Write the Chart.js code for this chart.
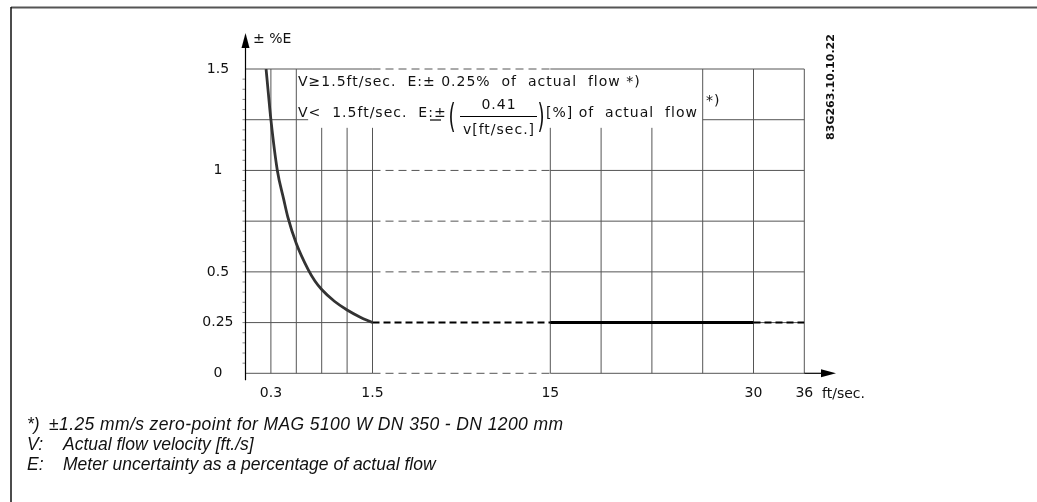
<!DOCTYPE html>
<html>
<head>
<meta charset="utf-8">
<script src="https://cdn.jsdelivr.net/npm/chart.js@4"></script>
<style>
body { margin: 0; background: #fff; }
canvas { display: block; }
</style>
</head>
<body>
<canvas id="chart" width="1037" height="502"></canvas>
<script>
// values (velocity in ft/sec, error in %)
const curveVelocity = [0.243, 0.27, 0.3, 0.376, 0.45, 0.5, 0.6, 0.742, 0.82, 0.9, 1.05, 1.2, 1.35, 1.5]
const curveError = [1.5, 1.38, 1.25, 1.0, 0.86, 0.77, 0.64, 0.51, 0.455, 0.413, 0.355, 0.312, 0.278, 0.25]
const gapVelocity = [1.5, 15]
const flatVelocity = [15, 30]
const tailVelocity = [30, 36]
const flatError = [0.25, 0.25]

const xTickVelocity = [0.3, 1.5, 15, 30, 36]
const xTickLabels = ['0.3', '1.5', '15', '30', '36']
const yTickValues = [0, 0.25, 0.5, 1, 1.5]
const yTickLabels = ['0', '0.25', '0.5', '1', '1.5']
const xGridVelocity = [0.3, 0.6, 0.9, 1.2, 1.5, 15, 18.75, 22.5, 26.25, 30, 36]
const yGridValues = [0, 0.25, 0.5, 0.75, 1, 1.25, 1.5]

// broken x axis: 0..1.5 linear, gap to 15, then 15..30 wider steps, 30..36 end
const toAxis = v => {
    if (v <= 1.5) return v / 0.3
    if (v <= 15) return 5 + (v - 1.5) / 13.5 * 7
    if (v <= 30) return 12 + (v - 15) / 1.875
    return 20 + (v - 30) / 3
}
const points = (xs, ys) => xs.map((v, i) => ({ x: toAxis(v), y: ys[i] }))

const FONT = '"DejaVu Sans", sans-serif'

const gridPlugin = {
    id: 'grid',
    beforeDatasetsDraw(chart) {
        const { ctx, scales: { x, y } } = chart
        const px = v => x.getPixelForValue(toAxis(v))
        const py = e => y.getPixelForValue(e)
        const seg = (x1, y1, x2, y2, dash) => {
            ctx.setLineDash(dash || [])
            ctx.beginPath()
            ctx.moveTo(x1, y1)
            ctx.lineTo(x2, y2)
            ctx.stroke()
        }
        ctx.save()
        ctx.strokeStyle = '#555'
        ctx.lineWidth = 1
        yGridValues.forEach(e => {
            if (e === 1.25) {
                seg(px(0), py(e), px(0.74), py(e))
                seg(px(26.25), py(e), px(36), py(e))
                return
            }
            seg(px(0), py(e), px(1.5), py(e))
            if (e !== 0.25) seg(px(1.5), py(e), px(15), py(e), [8, 5])
            seg(px(15), py(e), px(36), py(e))
        })
        xGridVelocity.forEach(v => {
            const top = [0.9, 1.2, 1.5, 15, 18.75, 22.5].includes(v) ? 1.21 : 1.5
            seg(px(v), py(0), px(v), py(top))
        })
        // minor ticks on the y axis
        ctx.strokeStyle = '#888'
        for (let i = 1; i < 30; i++) {
            seg(px(0) - 3, py(i * 0.05), px(0), py(i * 0.05))
        }
        ctx.restore()
    },
    afterDraw(chart) {
        const { ctx, scales: { x, y } } = chart
        const x0 = x.getPixelForValue(0)
        const y0 = y.getPixelForValue(0)
        ctx.save()
        // frame
        ctx.strokeStyle = '#555'
        ctx.lineWidth = 2
        ctx.beginPath(); ctx.moveTo(11, 7.5); ctx.lineTo(1037, 7.5); ctx.stroke()
        ctx.strokeStyle = '#111'
        ctx.lineWidth = 1.5
        ctx.beginPath(); ctx.moveTo(11, 7); ctx.lineTo(11, 502); ctx.stroke()

        // axes with arrows
        ctx.strokeStyle = '#000'
        ctx.fillStyle = '#000'
        ctx.lineWidth = 1.2
        ctx.beginPath(); ctx.moveTo(x0, 40); ctx.lineTo(x0, y0 + 7); ctx.stroke()
        ctx.beginPath(); ctx.moveTo(x0, 33); ctx.lineTo(x0 - 4, 48); ctx.lineTo(x0 + 4, 48); ctx.closePath(); ctx.fill()
        const xe = x.getPixelForValue(toAxis(36))
        ctx.beginPath(); ctx.moveTo(xe, y0); ctx.lineTo(828, y0); ctx.stroke()
        ctx.beginPath(); ctx.moveTo(836, y0); ctx.lineTo(821, y0 - 4); ctx.lineTo(821, y0 + 4); ctx.closePath(); ctx.fill()

        ctx.fillStyle = '#111'
        ctx.font = '14px ' + FONT
        ctx.textBaseline = 'middle'
        ctx.textAlign = 'left'
        ctx.fillText('± %E', 253, 39)
        ctx.fillText('ft/sec.', 822, 394)

        // formula box
        ctx.letterSpacing = '1px'
        ctx.fillText('V≥1.5ft/sec.  E:± 0.25%  of  actual  flow *)', 298, 82)
        ctx.fillText('V<  1.5ft/sec.  E:±', 298, 113)
        ctx.fillText('[%] of  actual  flow', 546, 113)
        ctx.fillText('*)', 706, 101)
        ctx.textAlign = 'center'
        ctx.fillText('0.41', 499, 105)
        ctx.fillText('v[ft/sec.]', 499, 130)
        ctx.letterSpacing = '0px'
        ctx.lineWidth = 1.2
        ctx.beginPath(); ctx.moveTo(460, 116.5); ctx.lineTo(537, 116.5); ctx.stroke()
        ctx.beginPath(); ctx.moveTo(430, 120); ctx.lineTo(441, 120); ctx.stroke()
        ;[['(', 452], [')', 541]].forEach(([c, cx]) => {
            ctx.save()
            ctx.translate(cx, 119)
            ctx.scale(1.3, 2.4)
            ctx.fillText(c, 0, 0)
            ctx.restore()
        })

        // drawing number
        ctx.save()
        ctx.translate(831, 87)
        ctx.rotate(-Math.PI / 2)
        ctx.font = 'bold 11px ' + FONT
        ctx.fillText('83G263.10.10.22', 0, 0)
        ctx.restore()

        // footnotes
        ctx.textAlign = 'left'
        ctx.textBaseline = 'alphabetic'
        ctx.font = 'italic 17.5px "Liberation Sans", Arial, sans-serif'
        ctx.fillText('*)', 27, 430)
        ctx.letterSpacing = '0.4px'
        ctx.fillText('±1.25 mm/s zero-point for MAG 5100 W DN 350 - DN 1200 mm', 49, 430)
        ctx.letterSpacing = '0px'
        ctx.fillText('V:', 27, 450)
        ctx.fillText('Actual flow velocity [ft./s]', 63, 450)
        ctx.fillText('E:', 27, 470)
        ctx.fillText('Meter uncertainty as a percentage of actual flow', 63, 470)
        ctx.restore()
    }
}

new Chart(document.getElementById('chart'), {
    type: 'line',
    data: {
        datasets: [
            {
                data: points(curveVelocity, curveError),
                borderColor: '#333',
                borderWidth: 2.8,
                cubicInterpolationMode: 'monotone',
                pointRadius: 0,
            },
            {
                data: points(gapVelocity, flatError),
                borderColor: '#000',
                borderWidth: 2,
                borderDash: [7, 4],
                pointRadius: 0,
            },
            {
                data: points(flatVelocity, flatError),
                borderColor: '#000',
                borderWidth: 3,
                pointRadius: 0,
            },
            {
                data: points(tailVelocity, flatError),
                borderColor: '#000',
                borderWidth: 2,
                borderDash: [7, 4],
                pointRadius: 0,
            },
        ]
    },
    options: {
        responsive: false,
        animation: false,
        layout: { padding: { top: 69, right: 232.7, left: 0, bottom: 0 } },
        plugins: { legend: { display: false }, tooltip: { enabled: false } },
        scales: {
            x: {
                type: 'linear',
                min: 0,
                max: toAxis(36),
                border: { display: false },
                grid: { display: false, drawTicks: false },
                afterFit: scale => { scale.height = 128.7 },
                afterBuildTicks: scale => { scale.ticks = xTickVelocity.map(v => ({ value: toAxis(v) })) },
                ticks: {
                    autoSkip: false,
                    maxRotation: 0,
                    padding: 12,
                    color: '#111',
                    font: { family: FONT, size: 14 },
                    callback: (value, i) => xTickLabels[i],
                },
            },
            y: {
                min: 0,
                max: 1.5,
                border: { display: false },
                grid: { display: false, drawTicks: false },
                afterFit: scale => { scale.width = 245.5 },
                afterBuildTicks: scale => { scale.ticks = yTickValues.map(v => ({ value: v })) },
                ticks: {
                    crossAlign: 'center',
                    padding: 12,
                    color: '#111',
                    font: { family: FONT, size: 14 },
                    callback: (value, i) => yTickLabels[i],
                },
            },
        }
    },
    plugins: [gridPlugin]
})
</script>
</body>
</html>
